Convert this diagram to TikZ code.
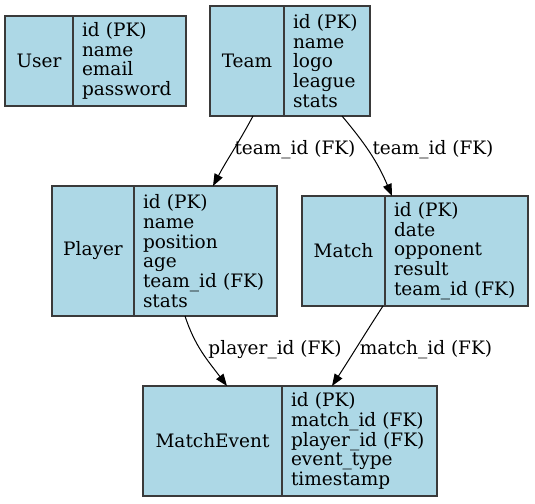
\documentclass[tikz,border=0pt]{standalone}
\usepackage{fontspec}
\setmainfont{DejaVu Serif}
\usetikzlibrary{positioning, arrows.meta}
\definecolor{tableBlue}{HTML}{ADD8E6}
\definecolor{frameGray}{HTML}{3A3A3A}
\newcommand{\entityfont}{\fontsize{18.5}{19.7}\selectfont}
\tikzset{
  entity/.style={rectangle, draw=frameGray, fill=tableBlue, line width=1.1pt,
    inner sep=0pt, outer sep=0pt, align=center, font=\entityfont},
  fields/.style={entity, align=left, inner xsep=9pt, inner ysep=0pt},
  fk/.style={-{Triangle[length=12pt,width=9pt]}, line width=1pt, black},
  fklabel/.style={font=\entityfont, inner sep=0pt},
}

\begin{document}
\begin{tikzpicture}[x=1pt, y=-1pt]
  \useasboundingbox (0,0) rectangle (535,503);
  % ---------------- tables ----------------
  \node[entity, minimum width=68pt, minimum height=90pt, anchor=north west]
    (user) at (5,16) {User};
  \node[fields, text width=95pt, minimum height=90pt, right=0pt of user]
    (userf) {id (PK)\\name\\email\\password};
  \node[entity, minimum width=74pt, minimum height=110pt, anchor=north west]
    (team) at (210,6) {Team};
  \node[fields, text width=68pt, minimum height=110pt, right=0pt of team]
    (teamf) {id (PK)\\name\\logo\\league\\stats};
  \node[entity, minimum width=82pt, minimum height=130pt, anchor=north west]
    (player) at (52,186) {Player};
  \node[fields, text width=125pt, minimum height=130pt, right=0pt of player]
    (playerf) {id (PK)\\name\\position\\age\\team\_id (FK)\\stats};
  \node[entity, minimum width=83pt, minimum height=110pt, anchor=north west]
    (match) at (302,196) {Match};
  \node[fields, text width=125pt, minimum height=110pt, right=0pt of match]
    (matchf) {id (PK)\\date\\opponent\\result\\team\_id (FK)};
  \node[entity, minimum width=139pt, minimum height=110pt, anchor=north west]
    (event) at (143,386) {MatchEvent};
  \node[fields, text width=137pt, minimum height=110pt, right=0pt of event]
    (eventf) {id (PK)\\match\_id (FK)\\player\_id (FK)\\event\_type\\timestamp};
  % ---------------- foreign keys ----------------
  \draw[fk] ([xshift=6pt]team.south) to[out=-118,in=62]
    ([xshift=7.5pt]playerf.north);
  \draw[fk] ([xshift=15pt]teamf.south) to[out=-50,in=113]
    ([xshift=7pt]matchf.north west);
  \draw[fk] ([xshift=51pt]playerf.south west) to[out=-72,in=127]
    ([xshift=14.5pt]event.north);
  \draw[fk] ([xshift=-2pt]match.south east) to[out=-123,in=57]
    ([xshift=-27.5pt]eventf.north);
  \node[fklabel] (lteamp) at (295,150) {team\_id (FK)};
  \node[fklabel] (lteamm) at (433,150) {team\_id (FK)};
  \node[fklabel] (lplayer) at (275,350) {player\_id (FK)};
  \node[fklabel] (lmatch) at (426,350) {match\_id (FK)};
\end{tikzpicture}
\end{document}
